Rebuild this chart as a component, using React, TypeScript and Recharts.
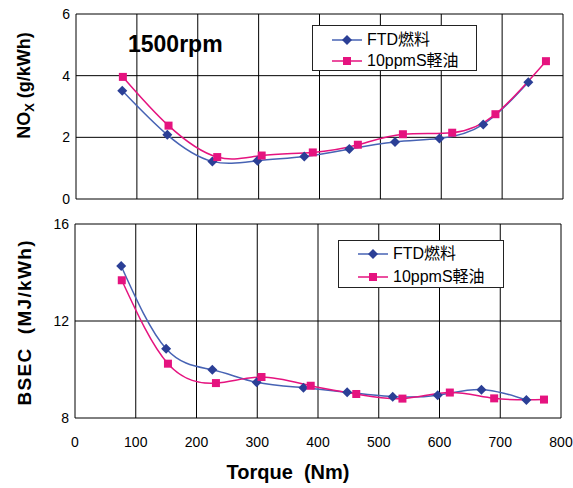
import React from "react";
import { LineChart, Line, XAxis, YAxis, CartesianGrid, Legend } from "recharts";

// ---- data ----
const seriesNames = ["FTD燃料", "10ppmS軽油"];
const xTicks = [0, 100, 200, 300, 400, 500, 600, 700, 800];
const noxTicks = [0, 2, 4, 6];
const bsecTicks = [8, 12, 16];

const noxTorqueFtd = [76, 150, 224, 298, 375, 449, 524, 597, 669, 743];
const noxFtd = [3.51, 2.08, 1.22, 1.24, 1.38, 1.62, 1.85, 1.96, 2.42, 3.79];
const noxTorqueGasoil = [77, 152, 232, 305, 389, 463, 537, 618, 689, 772];
const noxGasoil = [3.96, 2.38, 1.36, 1.41, 1.51, 1.76, 2.1, 2.15, 2.75, 4.47];

const bsecTorqueFtd = [76, 150, 226, 299, 376, 448, 523, 597, 669, 743];
const bsecFtd = [14.27, 10.86, 9.99, 9.47, 9.25, 9.06, 8.88, 8.94, 9.17, 8.74];
const bsecTorqueGasoil = [77, 153, 232, 307, 388, 463, 539, 617, 690, 772];
const bsecGasoil = [13.68, 10.24, 9.44, 9.69, 9.33, 8.99, 8.8, 9.05, 8.81, 8.76];

const zip = (xs: number[], ys: number[]) => xs.map((t, i) => ({ t, v: ys[i] }));

const BLUE_LINE = "#4763B4";
const BLUE_MARK = "#2B3F96";
const PINK = "#E5137F";
const FONT = "'Liberation Sans', Arial, 'Noto Sans CJK JP', sans-serif";

const Diamond = (p: any) => {
  const { cx, cy } = p;
  if (cx == null || cy == null) return null;
  return (
    <polygon
      key={`d-${p.index}`}
      points={`${cx},${cy - 5} ${cx + 5},${cy} ${cx},${cy + 5} ${cx - 5},${cy}`}
      fill={BLUE_MARK}
    />
  );
};

const Square = (p: any) => {
  const { cx, cy } = p;
  if (cx == null || cy == null) return null;
  return <rect key={`s-${p.index}`} x={cx - 4} y={cy - 4} width={8} height={8} fill={PINK} />;
};

const LegendBox = ({ w, h, rows }: { w: number; h: number; rows: number[] }) => (
  <div
    style={{
      width: w,
      height: h,
      border: "1px solid #222",
      background: "#fff",
      boxSizing: "border-box",
      position: "relative",
      fontFamily: FONT,
    }}
  >
    {seriesNames.map((name, i) => (
      <div key={name} style={{ position: "absolute", left: 0, top: rows[i] - 10, height: 20, width: w }}>
        <svg width={36} height={20} style={{ position: "absolute", left: 17, top: 0 }}>
          <line x1={2} y1={10} x2={32} y2={10} stroke={i === 0 ? BLUE_LINE : PINK} strokeWidth={1.5} />
          {i === 0 ? (
            <polygon points="17,5 22,10 17,15 12,10" fill={BLUE_MARK} />
          ) : (
            <rect x={13} y={6} width={8} height={8} fill={PINK} />
          )}
        </svg>
        <span
          style={{
            position: "absolute",
            left: 54,
            top: 0,
            lineHeight: "20px",
            fontSize: 16,
            color: "#000",
            whiteSpace: "nowrap",
          }}
        >
          {name}
        </span>
      </div>
    ))}
  </div>
);

const NoxLabel = (props: any) => {
  const vb = props.viewBox || {};
  const x = 24;
  const y = (vb.y ?? 14) + (vb.height ?? 185) / 2 - 21;
  return (
    <text
      x={x}
      y={y}
      transform={`rotate(-90 ${x} ${y})`}
      textAnchor="middle"
      dominantBaseline="central"
      fontFamily={FONT}
      fontWeight="bold"
      fontSize={18}
      fill="#000"
    >
      NO<tspan fontSize={13} dy={5}>X</tspan>
      <tspan dy={-5}> (g/kWh)</tspan>
    </text>
  );
};

const BsecLabel = (props: any) => {
  const vb = props.viewBox || {};
  const x = 24;
  const y = (vb.y ?? 14) + (vb.height ?? 194) / 2 + 2;
  return (
    <text
      x={x}
      y={y}
      transform={`rotate(-90 ${x} ${y})`}
      textAnchor="middle"
      dominantBaseline="central"
      fontFamily={FONT}
      fontWeight="bold"
      fontSize={19}
      fill="#000"
      textLength={165}
    >
      BSEC{"\u00a0\u00a0"}(MJ/kWh)
    </text>
  );
};

const TorqueLabel = (props: any) => {
  const vb = props.viewBox || {};
  const x = (vb.x ?? 75) + (vb.width ?? 486) / 2 - 30;
  const y = 262;
  return (
    <text
      x={x}
      y={y}
      textAnchor="middle"
      dominantBaseline="central"
      fontFamily={FONT}
      fontWeight="bold"
      fontSize={20}
      fill="#000"
    >
      Torque{"\u00a0\u00a0"}(Nm)
    </text>
  );
};

const tickStyle = { fontSize: 14, fill: "#000", fontFamily: FONT };

export default function App() {
  return (
    <div style={{ position: "absolute", left: 0, top: 0, width: 573, height: 488, background: "#fff" }}>
      <div style={{ position: "absolute", left: 0, top: 0 }}>
        <LineChart width={573} height={210} margin={{ top: 14, right: 10, bottom: 11, left: 0 }}>
          <CartesianGrid stroke="#000" strokeWidth={1} />
          <XAxis
            type="number"
            dataKey="t"
            domain={[0, 800]}
            ticks={xTicks}
            hide
            allowDuplicatedCategory={false}
          />
          <YAxis
            type="number"
            domain={[0, 6]}
            ticks={noxTicks}
            width={76}
            tickLine={false}
            axisLine={false}
            tickSize={0}
            tickMargin={6}
            tick={tickStyle}
            label={{ content: NoxLabel }}
          />
          <Legend
            layout="vertical"
            align="center"
            verticalAlign="middle"
            wrapperStyle={{ left: 312, top: 25, width: 165, height: 46 }}
            content={() => <LegendBox w={165} h={46} rows={[14, 35]} />}
          />
          <Line
            data={zip(noxTorqueFtd, noxFtd)}
            dataKey="v"
            name={seriesNames[0]}
            type="natural"
            stroke={BLUE_LINE}
            strokeWidth={1.5}
            dot={Diamond}
            activeDot={false}
            isAnimationActive={false}
          />
          <Line
            data={zip(noxTorqueGasoil, noxGasoil)}
            dataKey="v"
            name={seriesNames[1]}
            type="natural"
            stroke={PINK}
            strokeWidth={1.5}
            dot={Square}
            activeDot={false}
            isAnimationActive={false}
          />
        </LineChart>
      </div>
      <div
        style={{
          position: "absolute",
          left: 128,
          top: 31,
          fontFamily: FONT,
          fontWeight: "bold",
          fontSize: 23,
          lineHeight: "26px",
          color: "#000",
        }}
      >
        1500rpm
      </div>
      <div style={{ position: "absolute", left: 0, top: 210 }}>
        <LineChart width={573} height={278} margin={{ top: 14, right: 12, bottom: 0, left: 0 }}>
          <CartesianGrid stroke="#000" strokeWidth={1} />
          <XAxis
            type="number"
            dataKey="t"
            domain={[0, 800]}
            ticks={xTicks}
            height={70}
            tickLine={false}
            axisLine={false}
            tickSize={0}
            tickMargin={19}
            tick={tickStyle}
            allowDuplicatedCategory={false}
            label={{ content: TorqueLabel }}
          />
          <YAxis
            type="number"
            domain={[8, 16]}
            ticks={bsecTicks}
            width={75}
            tickLine={false}
            axisLine={false}
            tickSize={0}
            tickMargin={6}
            tick={tickStyle}
            label={{ content: BsecLabel }}
          />
          <Legend
            layout="vertical"
            align="center"
            verticalAlign="middle"
            wrapperStyle={{ left: 338, top: 30, width: 166, height: 48 }}
            content={() => <LegendBox w={166} h={48} rows={[13, 36]} />}
          />
          <Line
            data={zip(bsecTorqueFtd, bsecFtd)}
            dataKey="v"
            name={seriesNames[0]}
            type="natural"
            stroke={BLUE_LINE}
            strokeWidth={1.5}
            dot={Diamond}
            activeDot={false}
            isAnimationActive={false}
          />
          <Line
            data={zip(bsecTorqueGasoil, bsecGasoil)}
            dataKey="v"
            name={seriesNames[1]}
            type="natural"
            stroke={PINK}
            strokeWidth={1.5}
            dot={Square}
            activeDot={false}
            isAnimationActive={false}
          />
        </LineChart>
      </div>
    </div>
  );
}
